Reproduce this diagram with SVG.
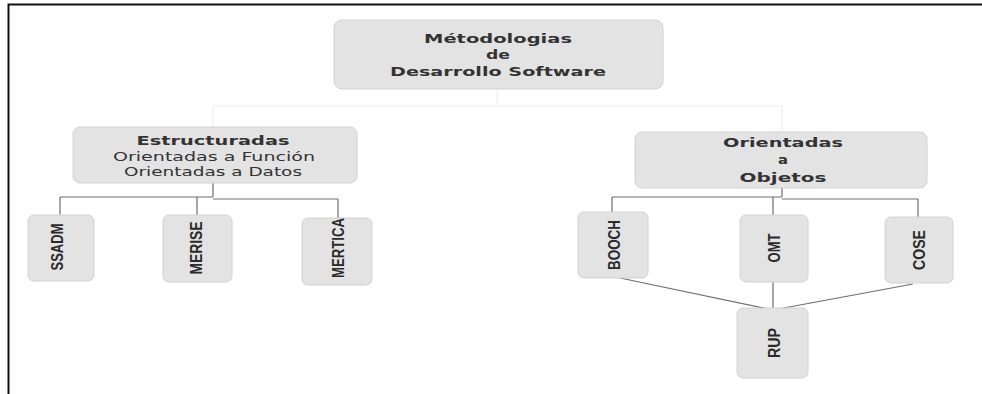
<svg xmlns="http://www.w3.org/2000/svg" width="982" height="394" viewBox="0 0 982 394">
<defs>
<style>
.box{fill:#e3e3e3;stroke:#d2d2d2;stroke-width:1}
.ttl{font-family:"DejaVu Sans",sans-serif;font-weight:bold;font-size:13px;fill:#333;text-anchor:middle}
.sub{font-family:"DejaVu Sans",sans-serif;font-size:13px;fill:#333;text-anchor:middle}
.vt{font-family:"Liberation Sans",Arial,sans-serif;font-weight:bold;font-size:17px;fill:#2a2a2a;text-anchor:middle}
.ln{fill:none;stroke:#6e6e6e;stroke-width:1.2}
.faint{fill:none;stroke:#ececec;stroke-width:1}
</style>
</defs>
<rect width="982" height="394" fill="#fff"/>
<path d="M8.5,394 V4.5 H982" fill="none" stroke="#111" stroke-width="2"/>

<g id="connectors">
<path class="faint" d="M497,90 V106 M213,106 H782 M213,106 V127 M782,106 V132"/>
<path class="ln" d="M213,182 V197 M60,197 H213 M213,199 H338 M60,197 V215 M197,197 V215 M338,199 V218"/>
<path class="ln" d="M782,188 V197 M612,197 H782 M782,199 H918 M612,197 V212 M773,197 V215 M918,199 V217"/>
<path class="ln" d="M620,278 L773,310 M773,282 V310 M913,284 L773,310"/>
</g>

<g id="root">
<rect class="box" x="334" y="20" width="329" height="69" rx="8"/>
<text class="ttl" x="498" y="43" textLength="148" lengthAdjust="spacingAndGlyphs">Métodologias</text>
<text class="ttl" x="498" y="59" textLength="24" lengthAdjust="spacingAndGlyphs">de</text>
<text class="ttl" x="498" y="76" textLength="216" lengthAdjust="spacingAndGlyphs">Desarrollo Software</text>
</g>

<g id="estructuradas">
<rect class="box" x="73" y="127" width="284" height="56" rx="7"/>
<text class="ttl" x="213" y="145" textLength="153" lengthAdjust="spacingAndGlyphs">Estructuradas</text>
<text class="sub" x="214" y="161" textLength="202" lengthAdjust="spacingAndGlyphs">Orientadas a Función</text>
<text class="sub" x="213" y="176" textLength="178" lengthAdjust="spacingAndGlyphs">Orientadas a Datos</text>
</g>

<g id="objetos">
<rect class="box" x="635" y="132" width="292" height="56" rx="7"/>
<text class="ttl" x="783" y="147" textLength="120" lengthAdjust="spacingAndGlyphs">Orientadas</text>
<text class="ttl" x="783" y="164" textLength="10" lengthAdjust="spacingAndGlyphs">a</text>
<text class="ttl" x="783" y="182" textLength="87" lengthAdjust="spacingAndGlyphs">Objetos</text>
</g>

<g id="ssadm">
<rect class="box" x="28" y="215" width="66" height="66" rx="6"/>
<text class="vt" transform="translate(63,247) rotate(-90)" textLength="47" lengthAdjust="spacingAndGlyphs">SSADM</text>
</g>
<g id="merise">
<rect class="box" x="163" y="215" width="69" height="67" rx="6"/>
<text class="vt" transform="translate(202,248) rotate(-90)" textLength="53" lengthAdjust="spacingAndGlyphs">MERISE</text>
</g>
<g id="mertica">
<rect class="box" x="302" y="218" width="70" height="67" rx="6"/>
<text class="vt" transform="translate(344,248) rotate(-90)" textLength="60" lengthAdjust="spacingAndGlyphs">MERTICA</text>
</g>

<g id="booch">
<rect class="box" x="578" y="212" width="70" height="66" rx="6"/>
<text class="vt" transform="translate(620,245) rotate(-90)" textLength="50" lengthAdjust="spacingAndGlyphs">BOOCH</text>
</g>
<g id="omt">
<rect class="box" x="740" y="215" width="68" height="67" rx="6"/>
<text class="vt" transform="translate(780,248) rotate(-90)" textLength="29" lengthAdjust="spacingAndGlyphs">OMT</text>
</g>
<g id="cose">
<rect class="box" x="885" y="217" width="68" height="66" rx="6"/>
<text class="vt" transform="translate(925,250) rotate(-90)" textLength="40" lengthAdjust="spacingAndGlyphs">COSE</text>
</g>
<g id="rup">
<rect class="box" x="737" y="308" width="71" height="70" rx="6"/>
<text class="vt" transform="translate(780,343) rotate(-90)" textLength="30" lengthAdjust="spacingAndGlyphs">RUP</text>
</g>
</svg>
